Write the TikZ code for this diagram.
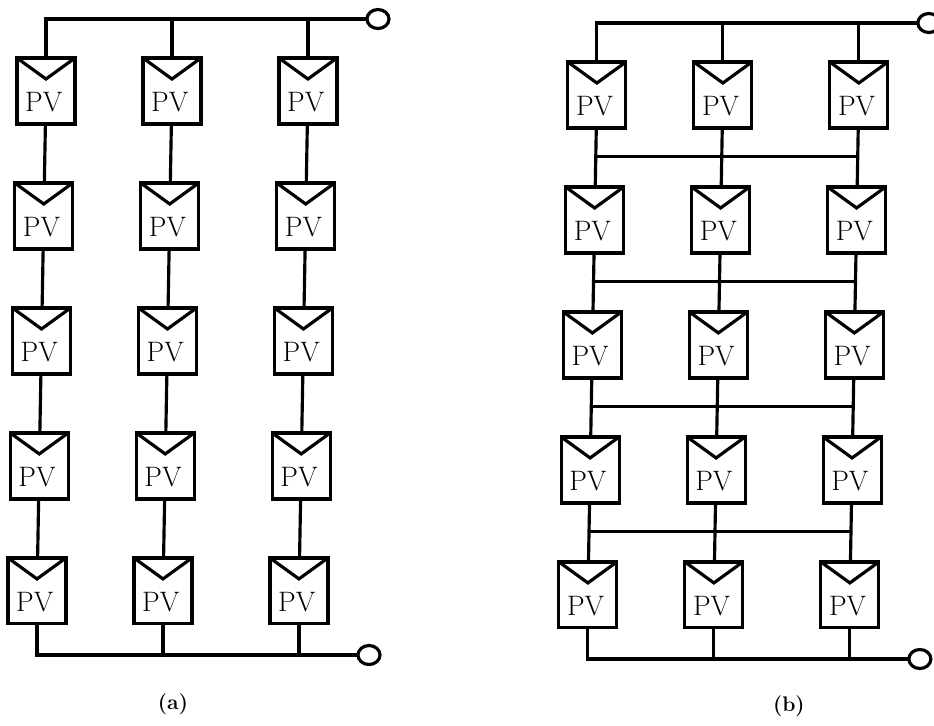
\documentclass[tikz,border=0pt]{standalone}
\usepackage{amsmath}
\usepackage{xcolor}
\usetikzlibrary{positioning}
\usetikzlibrary{shapes.geometric}
\tikzset{pv node/.style={rectangle,draw,line width=1.8pt,minimum width=1.16cm,minimum height=1.32cm,inner sep=0pt,outer sep=0pt,text height=.82cm,text depth=0pt,font=\fontsize{16}{16}\selectfont,execute at end node=\kern.09cm,
	path picture={\draw[line width=1.8pt] (path picture bounding box.north west) -- ([yshift=-.42cm]path picture bounding box.north) -- (path picture bounding box.north east);}},
	end node/.style={ellipse,draw,line width=1.8pt,fill=white,minimum width=.44cm,minimum height=.38cm,inner sep=0pt,outer sep=0pt},
	cap node/.style={font=\fontsize{12}{12}\selectfont\bfseries},
	wire/.style={line width=1.8pt},
	tap/.style={coordinate,pos=.48},}

\begin{document}
\begin{tikzpicture}[x=.02cm,y=-.02cm]
	\useasboundingbox (0,0) rectangle (934,725);
	\begin{scope}
    \node[pv node] (1) at (46,91) {PV};
    \node[pv node] (2) [below = 1.18cm of 1,xshift=-.045cm] {PV};
    \node[pv node] (3) [below = 1.18cm of 2,xshift=-.045cm] {PV};
    \node[pv node] (4) [below = 1.18cm of 3,xshift=-.045cm] {PV};
    \node[pv node] (5) [below = 1.18cm of 4,xshift=-.045cm] {PV};
    \node[pv node] (6) [right = 1.36cm of 1] {PV};
    \node[pv node] (7) [below = 1.18cm of 6,xshift=-.045cm] {PV};
    \node[pv node] (8) [below = 1.18cm of 7,xshift=-.045cm] {PV};
    \node[pv node] (9) [below = 1.18cm of 8,xshift=-.045cm] {PV};
    \node[pv node] (10) [below = 1.18cm of 9,xshift=-.045cm] {PV};
    \node[pv node] (11) [right = 1.56cm of 6] {PV};
    \node[pv node] (12) [below = 1.18cm of 11,xshift=-.045cm] {PV};
    \node[pv node] (13) [below = 1.18cm of 12,xshift=-.045cm] {PV};
    \node[pv node] (14) [below = 1.18cm of 13,xshift=-.045cm] {PV};
    \node[pv node] (15) [below = 1.18cm of 14,xshift=-.045cm] {PV};
    \node[end node] (top) at (378,19) {};
    \node[end node] (bot) at (369,655) {};
    \node[cap node] (cap) at (173,704) {(a)};

    \path[draw,wire]
    (1) edge node {} (2)
    (2) edge node {} (3)
    (3) edge node {} (4)
    (4) edge node {} (5)
    (6) edge node {} (7)
    (7) edge node {} (8)
    (8) edge node {} (9)
    (9) edge node {} (10)
    (11) edge node {} (12)
    (12) edge node {} (13)
    (13) edge node {} (14)
    (14) edge node {} (15)
    (1.north) |- (top)
    (6.north) -- (6.north |- top)
    (11.north) -- (11.north |- top)
    (5.south) |- (bot)
    (10.south) -- (10.south |- bot)
    (15.south) -- (15.south |- bot)
    ;
    \end{scope}

    \begin{scope}[xshift=11.02cm,yshift=-.08cm]
    \node[pv node] (1) at (46,91) {PV};
    \node[pv node] (2) [below = 1.18cm of 1,xshift=-.045cm] {PV};
    \node[pv node] (3) [below = 1.18cm of 2,xshift=-.045cm] {PV};
    \node[pv node] (4) [below = 1.18cm of 3,xshift=-.045cm] {PV};
    \node[pv node] (5) [below = 1.18cm of 4,xshift=-.045cm] {PV};
    \node[pv node] (6) [right = 1.36cm of 1] {PV};
    \node[pv node] (7) [below = 1.18cm of 6,xshift=-.045cm] {PV};
    \node[pv node] (8) [below = 1.18cm of 7,xshift=-.045cm] {PV};
    \node[pv node] (9) [below = 1.18cm of 8,xshift=-.045cm] {PV};
    \node[pv node] (10) [below = 1.18cm of 9,xshift=-.045cm] {PV};
    \node[pv node] (11) [right = 1.56cm of 6] {PV};
    \node[pv node] (12) [below = 1.18cm of 11,xshift=-.045cm] {PV};
    \node[pv node] (13) [below = 1.18cm of 12,xshift=-.045cm] {PV};
    \node[pv node] (14) [below = 1.18cm of 13,xshift=-.045cm] {PV};
    \node[pv node] (15) [below = 1.18cm of 14,xshift=-.045cm] {PV};
    \node[end node] (top) at (378,19) {};
    \node[end node] (bot) at (369,655) {};
    \node[cap node] (cap) at (238,702) {(b)};

    \path[draw,wire]
    (1) edge node[tap] (t1) {} (2)
    (2) edge node[tap] (t2) {} (3)
    (3) edge node[tap] (t3) {} (4)
    (4) edge node[tap] (t4) {} (5)
    (6) edge node {} (7)
    (7) edge node {} (8)
    (8) edge node {} (9)
    (9) edge node {} (10)
    (11) edge node[tap] (t5) {} (12)
    (12) edge node[tap] (t6) {} (13)
    (13) edge node[tap] (t7) {} (14)
    (14) edge node[tap] (t8) {} (15)
    (t1) edge node {} (t5)
    (t2) edge node {} (t6)
    (t3) edge node {} (t7)
    (t4) edge node {} (t8)
    (1.north) |- (top)
    (6.north) -- (6.north |- top)
    (11.north) -- (11.north |- top)
    (5.south) |- (bot)
    (10.south) -- (10.south |- bot)
    (15.south) -- (15.south |- bot)
    ;
    \end{scope}
\end{tikzpicture}
\end{document}
